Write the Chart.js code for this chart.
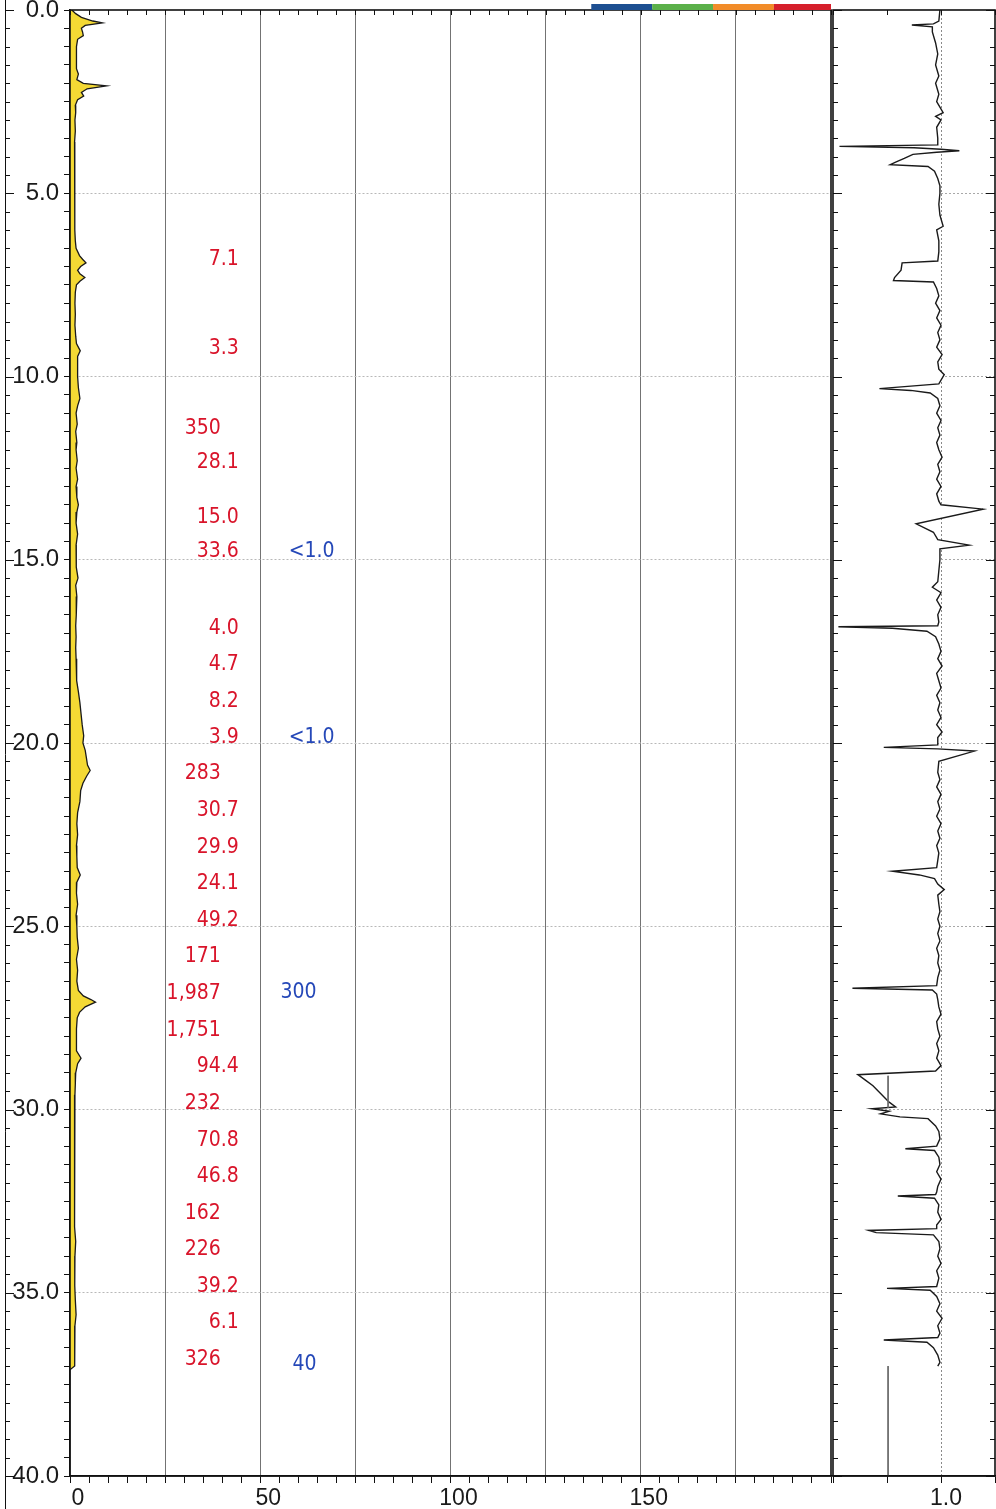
<!DOCTYPE html>
<html lang="en">
<head>
    <meta charset="UTF-8" />
    <title>Depth log</title>
    <script src="https://cdn.jsdelivr.net/npm/chart.js"></script>
    <style>
        * { box-sizing: border-box; margin: 0; padding: 0; }
        body { background: #fff; width: 996px; height: 1509px; overflow: hidden; position: relative; }
        canvas { position: absolute; top: 0; }
        #depthChart { left: 0; }
        #ratioChart { left: 832px; }
    </style>
</head>
<body>

    <canvas id="depthChart" width="832" height="1509"></canvas>
    <canvas id="ratioChart" width="164" height="1509"></canvas>

    <script>
        // left track: yellow log trace (depth, reading)
        const leftDepth = [
            0.0, 0.1, 0.2, 0.3, 0.35, 0.42, 0.5, 0.6, 0.7, 0.8,
            1.0, 1.2, 1.4, 1.6, 1.75, 1.9, 2.0, 2.07, 2.15, 2.25,
            2.35, 2.45, 2.6, 2.8, 3.0, 3.3, 3.6, 3.9, 4.2, 4.5,
            4.8, 5.1, 5.4, 5.7, 6.0, 6.3, 6.5, 6.7, 6.8, 6.9,
            7.0, 7.1, 7.2, 7.3, 7.4, 7.5, 7.7, 8.0, 8.3, 8.6,
            8.9, 9.1, 9.3, 9.45, 9.7, 10.0, 10.3, 10.6, 10.8, 11.0,
            11.3, 11.5, 11.8, 12.0, 12.3, 12.5, 12.8, 13.0, 13.3, 13.5,
            13.7, 14.0, 14.3, 14.6, 14.9, 15.2, 15.5, 15.7, 16.0, 16.2,
            16.5, 16.8, 17.1, 17.4, 17.7, 18.0, 18.3, 18.6, 18.9, 19.2,
            19.5, 19.8, 20.0, 20.2, 20.4, 20.6, 20.75, 20.9, 21.1, 21.3,
            21.6, 21.9, 22.2, 22.5, 22.8, 23.1, 23.4, 23.6, 23.8, 24.1,
            24.4, 24.7, 25.0, 25.3, 25.6, 25.9, 26.2, 26.5, 26.75, 26.9,
            27.0, 27.07, 27.2, 27.35, 27.5, 27.8, 28.1, 28.4, 28.6, 28.75,
            29.0, 29.3, 29.6, 30.0, 30.4, 30.8, 31.2, 31.6, 32.0, 32.4,
            32.8, 33.2, 33.6, 34.0, 34.4, 34.8, 35.2, 35.6, 35.9, 36.2,
            36.6, 37.0, 37.1
        ];
        const leftSignal = [
            0.5, 1.5, 3.0, 6.0, 8.5, 4.0, 3.0, 3.3, 3.5, 2.0,
            1.7, 1.8, 1.6, 1.7, 2.2, 1.8, 3.5, 9.6, 4.5, 3.0,
            3.6, 2.0, 1.4, 1.5, 1.3, 1.4, 1.2, 1.3, 1.2, 1.3,
            1.2, 1.3, 1.2, 1.3, 1.3, 1.4, 1.6, 2.5, 3.3, 4.2,
            2.8, 2.0, 2.6, 3.9, 2.6, 1.7, 1.4, 1.3, 1.4, 1.3,
            1.5, 1.7, 2.7, 2.0, 2.0, 2.0, 2.2, 2.6, 2.0, 1.6,
            1.9, 1.5, 1.8, 1.6, 1.9, 1.6, 2.0, 1.6, 1.8, 2.2,
            1.8, 1.6, 2.0, 1.6, 1.7, 1.6, 2.1, 1.5, 1.8, 1.6,
            1.7, 1.5, 1.6, 1.5, 1.6, 1.7, 1.8, 2.2, 2.6, 2.9,
            3.2, 3.6, 3.4, 4.0, 4.3, 4.6, 5.3, 4.4, 3.4, 2.8,
            2.6, 2.0, 1.8, 2.0, 1.7, 1.8, 1.9, 2.7, 1.8, 1.7,
            2.0, 1.6, 1.8, 1.9, 2.2, 1.7, 2.0, 1.8, 2.2, 3.5,
            5.5, 6.7, 4.0, 2.5, 1.9, 1.7, 1.6, 1.8, 2.9, 2.0,
            1.5, 1.4, 1.3, 1.2, 1.2, 1.3, 1.2, 1.1, 1.3, 1.2,
            1.1, 1.2, 1.5, 1.3, 1.2, 1.3, 1.4, 1.6, 1.3, 1.3,
            1.2, 1.2, 0.0
        ];

        // right track: ratio trace around 1.0
        const rightDepth = [
            0.0, 0.3, 0.38, 0.41, 0.46, 0.6, 0.9, 1.2, 1.5, 1.8,
            2.0, 2.3, 2.5, 2.8, 2.9, 3.0, 3.2, 3.5, 3.68, 3.72,
            3.76, 3.8, 3.84, 3.88, 3.94, 4.05, 4.15, 4.22, 4.27, 4.4,
            4.6, 4.8, 5.0, 5.3, 5.6, 5.9, 6.0, 6.3, 6.6, 6.85,
            6.9, 7.1, 7.3, 7.38, 7.42, 7.6, 7.8, 8.0, 8.2, 8.4,
            8.6, 8.8, 9.0, 9.2, 9.4, 9.6, 9.8, 9.95, 10.2, 10.33,
            10.38, 10.45, 10.6, 10.8, 11.0, 11.2, 11.4, 11.6, 11.8, 12.0,
            12.2, 12.4, 12.6, 12.8, 13.0, 13.2, 13.4, 13.5, 13.62, 14.02,
            14.25, 14.45, 14.6, 14.7, 14.85, 15.0, 15.3, 15.6, 15.75, 15.9,
            16.1, 16.3, 16.5, 16.7, 16.8, 16.83, 16.87, 16.95, 17.1, 17.3,
            17.5, 17.7, 17.9, 18.1, 18.3, 18.5, 18.7, 18.9, 19.1, 19.3,
            19.5, 19.7, 19.85, 20.05, 20.12, 20.16, 20.22, 20.5, 20.8, 21.0,
            21.2, 21.4, 21.6, 21.8, 22.0, 22.2, 22.4, 22.6, 22.8, 23.0,
            23.2, 23.4, 23.5, 23.6, 23.7, 23.85, 24.0, 24.15, 24.4, 24.6,
            24.8, 25.0, 25.2, 25.4, 25.6, 25.8, 26.0, 26.2, 26.4, 26.62,
            26.69, 26.74, 26.85, 27.0, 27.2, 27.4, 27.6, 27.8, 28.0, 28.2,
            28.4, 28.6, 28.8, 28.95, 29.05, 29.2, 29.35, 29.5, 29.65, 29.8,
            29.93, 29.98, 30.05, 30.12, 30.2, 30.25, 30.45, 30.6, 30.8, 31.0,
            31.07, 31.12, 31.3, 31.5, 31.7, 31.9, 32.1, 32.25, 32.32, 32.36,
            32.42, 32.6, 32.8, 33.0, 33.15, 33.25, 33.3, 33.36, 33.42, 33.6,
            33.8, 34.0, 34.2, 34.4, 34.6, 34.83, 34.88, 34.93, 35.1, 35.3,
            35.5, 35.7, 35.9, 36.1, 36.22, 36.29, 36.35, 36.5, 36.7, 36.9,
            37.0
        ];
        const rightSignal = [
            0.99, 0.98, 0.93, 0.73, 0.92, 0.92, 0.95, 0.97, 0.95, 0.98,
            0.95, 0.98, 0.96, 1.02, 0.95, 1.0, 0.96, 0.97, 0.97, 0.06,
            0.75, 1.0, 1.17, 0.96, 0.74, 0.66, 0.58, 0.53, 0.88, 0.94,
            0.97, 0.99, 0.99, 0.98, 0.99, 1.02, 0.96, 0.98, 0.98, 0.97,
            0.64, 0.63, 0.57, 0.56, 0.93, 0.96, 0.98, 0.95, 0.99, 0.96,
            1.0, 0.97, 0.99, 0.96, 1.01, 0.97, 0.98, 1.03, 0.98, 0.43,
            0.72, 0.9, 0.97, 0.99, 0.96, 1.0, 0.97, 0.99, 0.96, 0.98,
            1.01, 0.97, 0.99, 0.96, 1.0, 0.96, 0.98, 1.0, 1.39, 0.77,
            0.93, 0.97, 1.26, 0.99, 0.99, 0.99, 0.98, 0.97, 0.92, 1.0,
            0.96, 1.0, 0.97, 0.98, 0.97, 0.05, 0.55, 0.87, 0.95, 0.98,
            1.0, 0.97, 1.01, 0.96, 0.98, 1.0, 0.96, 0.99, 0.97, 1.0,
            0.96, 1.01, 0.97, 0.97, 0.47, 0.97, 1.31, 0.98, 0.97, 0.99,
            0.96, 1.0, 0.97, 0.99, 0.96, 1.0, 0.97, 0.99, 0.96, 0.98,
            0.97, 0.96, 0.55, 0.8, 0.94, 0.97, 1.03, 0.97, 0.98, 0.99,
            0.97, 0.99, 0.97, 0.99, 0.96, 0.98, 0.97, 0.99, 0.97, 0.96,
            0.18, 0.92, 0.96, 0.97, 0.98, 1.0, 0.96, 0.97, 0.99, 0.96,
            0.98, 0.96, 1.0, 0.95, 0.23, 0.3, 0.37, 0.42, 0.47, 0.52,
            0.58, 0.36, 0.52, 0.44, 0.62, 0.88, 0.95, 0.98, 0.99, 0.96,
            0.67, 0.94, 0.98, 0.99, 0.96, 1.0, 0.97, 0.96, 0.95, 0.6,
            0.94, 0.98, 0.97, 1.0, 0.96, 0.96, 0.33, 0.4, 0.93, 0.98,
            0.99, 0.97, 1.0, 0.96, 0.98, 0.96, 0.5, 0.9, 0.96, 0.99,
            0.96, 1.01, 0.97, 0.99, 0.97, 0.47, 0.87, 0.93, 0.97, 0.99,
            0.97
        ];

        // thin grey reference segments in the right track
        const baseDepth = [29.08, 29.95, null, 37.0, 40.0];
        const baseSignal = [0.51, 0.51, null, 0.51, 0.51];

        // sample results written beside the log
        const redDepth = [6.81, 9.24, 11.42, 12.34, 13.84, 14.77, 16.87, 17.85, 18.86, 19.86,
                          20.84, 21.85, 22.86, 23.84, 24.85, 25.83, 26.84, 27.85, 28.83, 29.84,
                          30.84, 31.83, 32.83, 33.81, 34.82, 35.80, 36.81];
        const redText = ['7.1', '3.3', '350', '28.1', '15.0', '33.6', '4.0', '4.7', '8.2', '3.9',
                         '283', '30.7', '29.9', '24.1', '49.2', '171', '1,987', '1,751', '94.4', '232',
                         '70.8', '46.8', '162', '226', '39.2', '6.1', '326'];
        const blueDepth = [14.77, 19.86, 26.81, 36.95];
        const blueText = ['<1.0', '<1.0', '300', '40'];

        // colour band on top of the left track (x units)
        const bandEdges = [137, 153, 169, 185, 200];
        const bandColors = ['#1d4f91', '#5bb04a', '#f28c28', '#d61f2b'];

        const toPoints = (depths, values) => depths.map((d, i) => ({ x: values[i], y: d }));

        Chart.defaults.font.family = "'Liberation Sans', Arial, sans-serif";
        Chart.defaults.color = '#1a1a1a';

        const frame = {
            id: 'frame',
            afterDraw(chart, args, o) {
                const { ctx, chartArea: a, scales: { x, y } } = chart;
                ctx.save();
                ctx.strokeStyle = '#111';
                ctx.lineWidth = 1;
                ctx.beginPath();
                for (let d = 0; d <= 40; d += 0.5) {
                    const py = Math.round(y.getPixelForValue(d)) + 0.5;
                    const len = d % 5 === 0 ? 9 : 5;
                    if (o.leftTicks) { ctx.moveTo(a.left, py); ctx.lineTo(a.left + len, py); }
                    if (o.rightTicks) { ctx.moveTo(a.right, py); ctx.lineTo(a.right - len, py); }
                    if (o.edge != null) { ctx.moveTo(o.edge, py); ctx.lineTo(o.edge + len, py); }
                }
                x.ticks.forEach(t => {
                    const px = Math.round(x.getPixelForValue(t.value)) + 0.5;
                    ctx.moveTo(px, a.top);
                    ctx.lineTo(px, a.top + 5);
                });
                if (o.edge != null) {
                    ctx.moveTo(o.edge + 0.5, 0);
                    ctx.lineTo(o.edge + 0.5, chart.height);
                }
                ctx.stroke();
                ctx.lineWidth = 1.6;
                ctx.strokeRect(a.left, a.top, a.right - a.left, a.bottom - a.top);

                if (o.band) {
                    for (let i = 0; i < bandColors.length; i++) {
                        const x0 = x.getPixelForValue(bandEdges[i]);
                        const x1 = x.getPixelForValue(bandEdges[i + 1]);
                        ctx.fillStyle = bandColors[i];
                        ctx.fillRect(x0, a.top - 6, x1 - x0, 6);
                    }
                }
                ctx.restore();
            }
        };

        function drawAligned(ctx, text, px, py) {
            const k = text.indexOf('.');
            const head = k < 0 ? text : text.slice(0, k);
            const tail = k < 0 ? '' : text.slice(k);
            ctx.textAlign = 'right';
            ctx.fillText(head, px, py);
            if (tail) {
                ctx.textAlign = 'left';
                ctx.fillText(tail, px, py);
            }
        }

        const sampleLabels = {
            id: 'sampleLabels',
            afterDatasetsDraw(chart) {
                const { ctx, scales: { x, y } } = chart;
                ctx.save();
                ctx.font = "21px 'DejaVu Sans Condensed', 'DejaVu Sans', sans-serif";
                ctx.textBaseline = 'middle';
                ctx.fillStyle = '#d9142a';
                redDepth.forEach((d, i) => drawAligned(ctx, redText[i], x.getPixelForValue(39.6), y.getPixelForValue(d)));
                ctx.fillStyle = '#2548b8';
                blueDepth.forEach((d, i) => drawAligned(ctx, blueText[i], x.getPixelForValue(64.8), y.getPixelForValue(d)));
                ctx.restore();
            }
        };

        const noPad = s => { s.paddingLeft = 0; s.paddingRight = 0; s.paddingTop = 0; s.paddingBottom = 0; };

        new Chart(document.getElementById('depthChart'), {
            type: 'line',
            data: {
                datasets: [{
                    data: toPoints(leftDepth, leftSignal),
                    borderColor: '#1a1a1a',
                    borderWidth: 1.3,
                    backgroundColor: '#f4d934',
                    fill: 'origin',
                    pointRadius: 0,
                    tension: 0
                }]
            },
            options: {
                indexAxis: 'y',
                responsive: false,
                animation: false,
                devicePixelRatio: 1,
                layout: { padding: { top: 10, right: 1, left: 0, bottom: 0 } },
                plugins: {
                    legend: { display: false },
                    tooltip: { enabled: false },
                    frame: { edge: 5, band: true }
                },
                scales: {
                    x: {
                        type: 'linear',
                        position: 'bottom',
                        min: 0, max: 200,
                        afterFit: s => { s.height = 33; noPad(s); },
                        ticks: {
                            stepSize: 5, maxTicksLimit: 200, autoSkip: false, maxRotation: 0,
                            labelOffset: 8, padding: 2,
                            font: { size: 23 },
                            callback: v => (v % 50 === 0 && v < 200) ? String(v) : ''
                        },
                        grid: {
                            color: c => (c.tick && c.tick.value % 25 === 0 && c.tick.value > 0 && c.tick.value < 200) ? '#737373' : 'rgba(0,0,0,0)',
                            tickColor: '#111',
                            tickLength: 7,
                            lineWidth: 1
                        },
                        border: { color: '#111', width: 1.5 }
                    },
                    y: {
                        type: 'linear',
                        min: 0, max: 40,
                        reverse: true,
                        afterFit: s => { s.width = 70; noPad(s); },
                        ticks: {
                            stepSize: 0.5, maxTicksLimit: 200, autoSkip: false,
                            padding: 5,
                            font: { size: 24 },
                            callback: v => v % 5 === 0 ? v.toFixed(1) : ''
                        },
                        grid: {
                            color: c => (c.tick && c.tick.value % 5 === 0 && c.tick.value > 0 && c.tick.value < 40) ? '#b8b8b8' : 'rgba(0,0,0,0)',
                            tickColor: '#111',
                            tickLength: 6,
                            lineWidth: 1
                        },
                        border: { color: '#111', width: 1.5, dash: [2, 2] }
                    }
                }
            },
            plugins: [frame, sampleLabels]
        });

        // grey segments first so the white fill of the trace sits under them
        new Chart(document.getElementById('ratioChart'), {
            type: 'line',
            data: {
                datasets: [{
                    data: toPoints(baseDepth, baseSignal),
                    borderColor: '#6a6a6a',
                    borderWidth: 1,
                    fill: false,
                    spanGaps: false,
                    pointRadius: 0
                }, {
                    data: toPoints(rightDepth, rightSignal),
                    borderColor: '#1a1a1a',
                    borderWidth: 1.4,
                    backgroundColor: '#ffffff',
                    fill: 'origin',
                    pointRadius: 0,
                    tension: 0
                }]
            },
            options: {
                indexAxis: 'y',
                responsive: false,
                animation: false,
                devicePixelRatio: 1,
                layout: { padding: { top: 10, right: 1, left: 1, bottom: 0 } },
                plugins: {
                    legend: { display: false },
                    tooltip: { enabled: false },
                    frame: { leftTicks: true, rightTicks: true }
                },
                scales: {
                    x: {
                        type: 'linear',
                        position: 'bottom',
                        min: 0, max: 1.5,
                        afterFit: s => { s.height = 33; noPad(s); },
                        ticks: {
                            stepSize: 0.5, autoSkip: false, maxRotation: 0,
                            labelOffset: 5, padding: 2,
                            font: { size: 23 },
                            callback: v => v === 1 ? '1.0' : ''
                        },
                        grid: {
                            color: c => (c.tick && c.tick.value === 1) ? '#8a8a8a' : 'rgba(0,0,0,0)',
                            tickColor: '#111',
                            tickLength: 7
                        },
                        border: { color: '#111', width: 1.5, dash: [2, 2] }
                    },
                    y: {
                        type: 'linear',
                        min: 0, max: 40,
                        reverse: true,
                        afterFit: s => { s.width = 0; noPad(s); },
                        ticks: { display: false, stepSize: 5 },
                        grid: {
                            drawTicks: false,
                            color: c => (c.tick && c.tick.value > 0 && c.tick.value < 40) ? '#a8a8a8' : 'rgba(0,0,0,0)'
                        },
                        border: { display: false, dash: [2, 2] }
                    }
                }
            },
            plugins: [frame]
        });
    </script>

</body>
</html>
